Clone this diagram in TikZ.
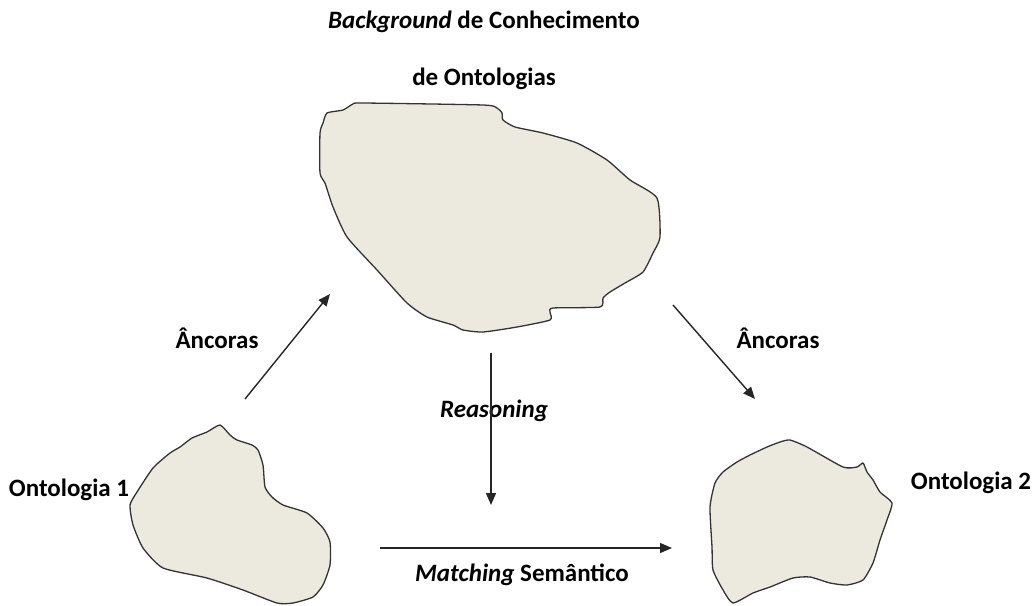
\documentclass[tikz,border=0pt]{standalone}
\usepackage{fontspec}
\setmainfont{Carlito}
\usetikzlibrary{arrows.meta}
\definecolor{blobfill}{RGB}{236,233,223}
\begin{document}
\begin{tikzpicture}[x=1pt,y=-1pt,
  blob/.style={draw=black!80, line width=1.3pt, fill=blobfill, line join=round},
  seta/.style={-{Triangle[length=12pt,width=10pt]}, line width=1.4pt, black!85},
  rotulo/.style={font=\fontsize{25}{30}\selectfont\bfseries, inner sep=0pt}]
\useasboundingbox (0,0) rectangle (1033,605);
% formas
\draw[blob] plot[smooth cycle, tension=0.35] coordinates {
  (327,113) (343,110) (353,104) (363,103) (483,105) (497,108) (502,113) (503,120)
  (515,127) (543,133) (577,143) (607,160) (630,180) (657,198) (660,237) (653,253)
  (643,272) (625,283) (610,292) (603,298) (600,307) (553,308) (550,312) (550,320)
  (517,327) (483,332) (463,330) (453,325) (427,317) (407,303) (377,270) (347,237)
  (333,207) (325,183) (320,173) (320,133) (323,123)};
\draw[blob] plot[smooth cycle, tension=0.35] coordinates {
  (220,425) (230,435) (237,440) (252,445) (258,450) (263,465) (265,487) (272,497)
  (283,505) (307,513) (323,528) (330,542) (330,565) (323,585) (313,597) (293,603)
  (277,603) (243,590) (207,578) (163,568) (143,548) (133,525) (130,505) (137,492)
  (153,468) (170,453) (180,447) (192,438) (207,432)};
\draw[blob] plot[smooth cycle, tension=0.35] coordinates {
  (790,440) (807,447) (843,467) (857,467) (863,463) (867,472) (873,480) (880,492)
  (892,503) (887,520) (880,540) (873,563) (863,580) (847,585) (830,583) (810,577)
  (793,578) (770,587) (753,593) (733,603) (723,590) (713,570) (712,547) (710,507)
  (715,483) (723,472) (737,462) (750,455) (767,447) (780,442)};
% textos
\node[rotulo] (bg) at (484,22) {\textit{Background} de Conhecimento};
\node[rotulo] (onts) at (484,79) {de Ontologias};
\node[rotulo] (anc1) at (217,338) {Âncoras};
\node[rotulo] (anc2) at (778,338) {Âncoras};
\node[rotulo] (reas) at (494,411) {\textit{Reasoning}};
\node[rotulo] (match) at (522,575) {\textit{Matching} Semântico};
\node[rotulo] (ont1) at (69,490) {Ontologia 1};
\node[rotulo] (ont2) at (971,483) {Ontologia 2};
% setas
\coordinate (a1) at (245,399);
\coordinate (b1) at (330,294);
\coordinate (a2) at (673,305);
\coordinate (b2) at (755,399);
\coordinate (r1) at (491,353);
\coordinate (r2) at (491,505);
\coordinate (m1) at (380,548);
\coordinate (m2) at (672,548);
\draw[seta] (a1) -- (b1);
\draw[seta] (a2) -- (b2);
\draw[seta] (r1) -- (r2);
\draw[seta] (m1) -- (m2);
\end{tikzpicture}
\end{document}
